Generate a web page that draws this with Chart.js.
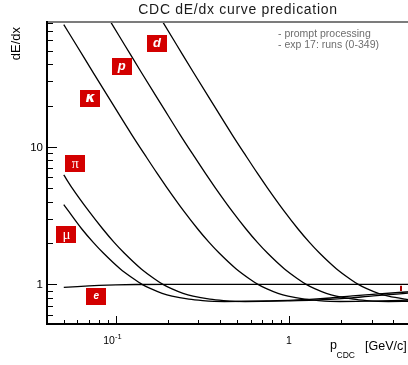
<!DOCTYPE html>
<html>
<head>
<meta charset="utf-8">
<title>CDC dE/dx curve predication</title>
<script src="https://cdn.jsdelivr.net/npm/chart.js@4.4.1/dist/chart.umd.min.js"></script>
<style>
  html, body { margin: 0; padding: 0; background: #fff; overflow: hidden; }
  #wrap { width: 408px; height: 365px; overflow: hidden; }
</style>
</head>
<body>
<div id="wrap"><canvas id="dedxChart" width="412" height="365"></canvas></div>
<script>
// momentum p_CDC [GeV/c] and expected dE/dx for each hypothesis
const eMom  = [0.05, 0.06, 0.07, 0.08, 0.1, 0.13, 0.2, 0.5, 1, 2, 5];
const eDedx = [0.95, 0.963, 0.974, 0.982, 0.992, 0.998, 1.0, 1.0, 1.0, 1.0, 1.0];

const muMom  = [0.05, 0.0529, 0.0634, 0.074, 0.0846, 0.1057, 0.127, 0.1416, 0.159, 0.185, 0.211, 0.264, 0.317, 0.37, 0.423, 0.529, 0.74, 1.057, 1.586, 2.325, 3.17, 5.0];
const muDedx = [3.8, 3.45, 2.54, 2.02, 1.69, 1.30, 1.095, 1.0, 0.93, 0.86, 0.82, 0.78, 0.762, 0.753, 0.751, 0.752, 0.758, 0.768, 0.79, 0.825, 0.85, 0.884];

const piMom  = [0.05, 0.0558, 0.0698, 0.0838, 0.0977, 0.1117, 0.1396, 0.1675, 0.187, 0.2094, 0.2443, 0.279, 0.349, 0.419, 0.489, 0.558, 0.698, 0.977, 1.396, 2.094, 3.07, 4.19, 5.0];
const piDedx = [6.25, 5.04, 3.41, 2.54, 2.02, 1.69, 1.30, 1.095, 1.0, 0.93, 0.86, 0.82, 0.78, 0.762, 0.753, 0.751, 0.752, 0.758, 0.768, 0.79, 0.825, 0.85, 0.866];

const kMom  = [0.05, 0.0592, 0.0741, 0.0987, 0.1234, 0.1481, 0.1728, 0.1975, 0.2469, 0.2962, 0.3456, 0.395, 0.4937, 0.5924, 0.6616, 0.7406, 0.864, 0.9874, 1.234, 1.481, 1.728, 1.975, 2.469, 3.456, 5.0];
const kDedx = [77.5, 54.9, 34.6, 19.3, 12.3, 8.64, 6.44, 5.04, 3.41, 2.54, 2.02, 1.69, 1.30, 1.095, 1.0, 0.93, 0.86, 0.82, 0.78, 0.762, 0.753, 0.751, 0.752, 0.758, 0.768];

const pMom  = [0.0844, 0.0938, 0.1126, 0.1407, 0.1877, 0.2346, 0.2815, 0.3284, 0.3753, 0.4692, 0.563, 0.6568, 0.7506, 0.9383, 1.126, 1.257, 1.407, 1.642, 1.877, 2.346, 2.815, 3.284, 3.753, 5.0];
const pDedx = [99.8, 80.1, 54.9, 34.6, 19.3, 12.3, 8.64, 6.44, 5.04, 3.41, 2.54, 2.02, 1.69, 1.30, 1.095, 1.0, 0.93, 0.86, 0.82, 0.78, 0.762, 0.753, 0.751, 0.752];

const dMom  = [0.1688, 0.1876, 0.2251, 0.2813, 0.3751, 0.4689, 0.5627, 0.6565, 0.7502, 0.9378, 1.125, 1.313, 1.5, 1.876, 2.251, 2.513, 2.813, 3.282, 3.751, 4.689, 5.0];
const dDedx = [99.8, 80.1, 54.9, 34.6, 19.3, 12.3, 8.64, 6.44, 5.04, 3.41, 2.54, 2.02, 1.69, 1.30, 1.095, 1.0, 0.93, 0.86, 0.82, 0.78, 0.772];

// axis ticks
const xMajorTicks = [0.1, 1];
const xTickLabels = [['10', '-1'], ['1', '']];
const xMinorTicks = [0.05, 0.06, 0.07, 0.08, 0.09, 0.2, 0.3, 0.4, 0.5, 0.6, 0.7, 0.8, 0.9, 2, 3, 4, 5];
const yMajorTicks = [1, 10];
const yTickLabels = ['1', '10'];
const yMinorTicks = [0.6, 0.7, 0.8, 0.9, 2, 3, 4, 5, 6, 7, 8, 9, 20, 30, 40, 50, 60, 70, 80];

const notes = ['- prompt processing', '- exp 17: runs (0-349)'];

// particle tags, placed in data coordinates
const tags = [
  { text: 'd', x: 0.1726, y: 56.7, font: 'bold italic 13px "Liberation Sans", Arial, sans-serif' },
  { text: 'p', x: 0.108, y: 38.6, font: 'bold italic 13px "Liberation Sans", Arial, sans-serif' },
  { text: 'κ', x: 0.0712, y: 22.6, font: 'bold italic 14px "DejaVu Sans", sans-serif' },
  { text: 'π', x: 0.0583, y: 7.58, font: '14px "Liberation Serif", serif' },
  { text: 'μ', x: 0.0518, y: 2.31, font: '15px "Liberation Serif", serif' },
  { text: 'e', x: 0.0771, y: 0.822, font: 'bold italic 10px "Liberation Sans", Arial, sans-serif' }
];

const toPoints = (xs, ys) => xs.map((v, i) => ({ x: v, y: ys[i] }));

const curve = (label, xs, ys) => ({
  label,
  data: toPoints(xs, ys),
  borderColor: '#000',
  borderWidth: 1.3,
  pointRadius: 0,
  fill: false,
  cubicInterpolationMode: 'monotone'
});

const SANS = '"Liberation Sans", Arial, sans-serif';

const frameAndText = {
  id: 'frameAndText',
  afterDatasetsDraw(chart) {
    const { ctx, chartArea: a, scales: { x, y } } = chart;
    ctx.save();

    // frame
    ctx.lineWidth = 2;
    ctx.strokeStyle = '#7c7c7c';
    ctx.beginPath();
    ctx.moveTo(a.left, a.top);
    ctx.lineTo(a.right + 4, a.top);
    ctx.stroke();
    ctx.strokeStyle = '#000';
    ctx.beginPath();
    ctx.moveTo(a.left, a.top - 1);
    ctx.lineTo(a.left, a.bottom);
    ctx.lineTo(a.right + 4, a.bottom);
    ctx.stroke();

    // ticks point into the frame
    ctx.lineWidth = 1;
    ctx.beginPath();
    xMajorTicks.forEach(v => {
      const px = Math.round(x.getPixelForValue(v)) + 0.5;
      ctx.moveTo(px, a.bottom); ctx.lineTo(px, a.bottom - 8);
    });
    xMinorTicks.forEach(v => {
      const px = Math.round(x.getPixelForValue(v)) + 0.5;
      ctx.moveTo(px, a.bottom); ctx.lineTo(px, a.bottom - 4);
    });
    yMajorTicks.forEach(v => {
      const py = Math.round(y.getPixelForValue(v)) + 0.5;
      ctx.moveTo(a.left, py); ctx.lineTo(a.left + 10, py);
    });
    yMinorTicks.forEach(v => {
      const py = Math.round(y.getPixelForValue(v)) + 0.5;
      ctx.moveTo(a.left, py); ctx.lineTo(a.left + 6, py);
    });
    ctx.stroke();

    // tick labels
    ctx.fillStyle = '#000';
    ctx.textBaseline = 'alphabetic';
    xMajorTicks.forEach((v, i) => {
      const px = x.getPixelForValue(v);
      const [base, sup] = xTickLabels[i];
      if (sup) {
        ctx.font = '10.5px ' + SANS;
        ctx.textAlign = 'right';
        ctx.fillText(base, px - 1, a.bottom + 20);
        ctx.font = '7.5px ' + SANS;
        ctx.textAlign = 'left';
        ctx.fillText(sup, px - 1, a.bottom + 15);
      } else {
        ctx.font = '10.5px ' + SANS;
        ctx.textAlign = 'center';
        ctx.fillText(base, px, a.bottom + 20);
      }
    });
    ctx.font = '11.5px ' + SANS;
    ctx.textAlign = 'right';
    ctx.textBaseline = 'middle';
    yMajorTicks.forEach((v, i) => {
      ctx.fillText(yTickLabels[i], a.left - 4, y.getPixelForValue(v) + 0.5);
    });

    // axis titles
    ctx.textBaseline = 'alphabetic';
    ctx.textAlign = 'left';
    ctx.font = '12.5px ' + SANS;
    ctx.fillText('p', 330, 348.5);
    ctx.font = '8.5px ' + SANS;
    ctx.fillText('CDC', 336.5, 357.5);
    ctx.font = '12.5px ' + SANS;
    ctx.fillText('[GeV/c]', 365, 349.5);

    ctx.save();
    ctx.translate(20, 27);
    ctx.rotate(-Math.PI / 2);
    ctx.font = '13px ' + SANS;
    ctx.textAlign = 'right';
    ctx.fillText('dE/dx', 0, 0);
    ctx.restore();

    // title
    ctx.font = '14px ' + SANS;
    ctx.letterSpacing = '0.7px';
    ctx.textAlign = 'center';
    ctx.fillStyle = '#1a1a1a';
    ctx.fillText('CDC dE/dx curve predication', 238, 13.5);
    ctx.letterSpacing = '0px';

    // run notes
    ctx.font = '10.5px ' + SANS;
    ctx.textAlign = 'left';
    ctx.fillStyle = '#6e6e6e';
    notes.forEach((t, i) => ctx.fillText(t, 278, 37 + i * 11));

    // particle tags
    tags.forEach(t => {
      const cx = x.getPixelForValue(t.x);
      const cy = y.getPixelForValue(t.y);
      ctx.fillStyle = '#d30000';
      ctx.fillRect(Math.round(cx - 10), Math.round(cy - 8.5), 20, 17);
      ctx.fillStyle = '#fff';
      ctx.font = t.font;
      ctx.textAlign = 'center';
      ctx.textBaseline = 'middle';
      ctx.fillText(t.text, cx, cy + 0.5);
    });

    // small marker near the right edge
    ctx.strokeStyle = '#a80000';
    ctx.lineWidth = 2;
    ctx.beginPath();
    const mx = Math.round(x.getPixelForValue(4.44));
    ctx.moveTo(mx, y.getPixelForValue(0.977));
    ctx.lineTo(mx, y.getPixelForValue(0.894));
    ctx.stroke();

    ctx.restore();
  }
};

new Chart(document.getElementById('dedxChart').getContext('2d'), {
  type: 'line',
  data: {
    datasets: [
      curve('e', eMom, eDedx),
      curve('mu', muMom, muDedx),
      curve('pi', piMom, piDedx),
      curve('K', kMom, kDedx),
      curve('p', pMom, pDedx),
      curve('d', dMom, dDedx)
    ]
  },
  options: {
    responsive: false,
    devicePixelRatio: 1,
    animation: false,
    layout: { padding: { left: 47, top: 22, right: 2, bottom: 41 } },
    scales: {
      x: { type: 'logarithmic', min: 0.04, max: 5, display: false },
      y: { type: 'logarithmic', min: 0.515, max: 81, display: false }
    },
    plugins: {
      legend: { display: false },
      tooltip: { enabled: false },
      title: { display: false }
    }
  },
  plugins: [frameAndText]
});
</script>
</body>
</html>
